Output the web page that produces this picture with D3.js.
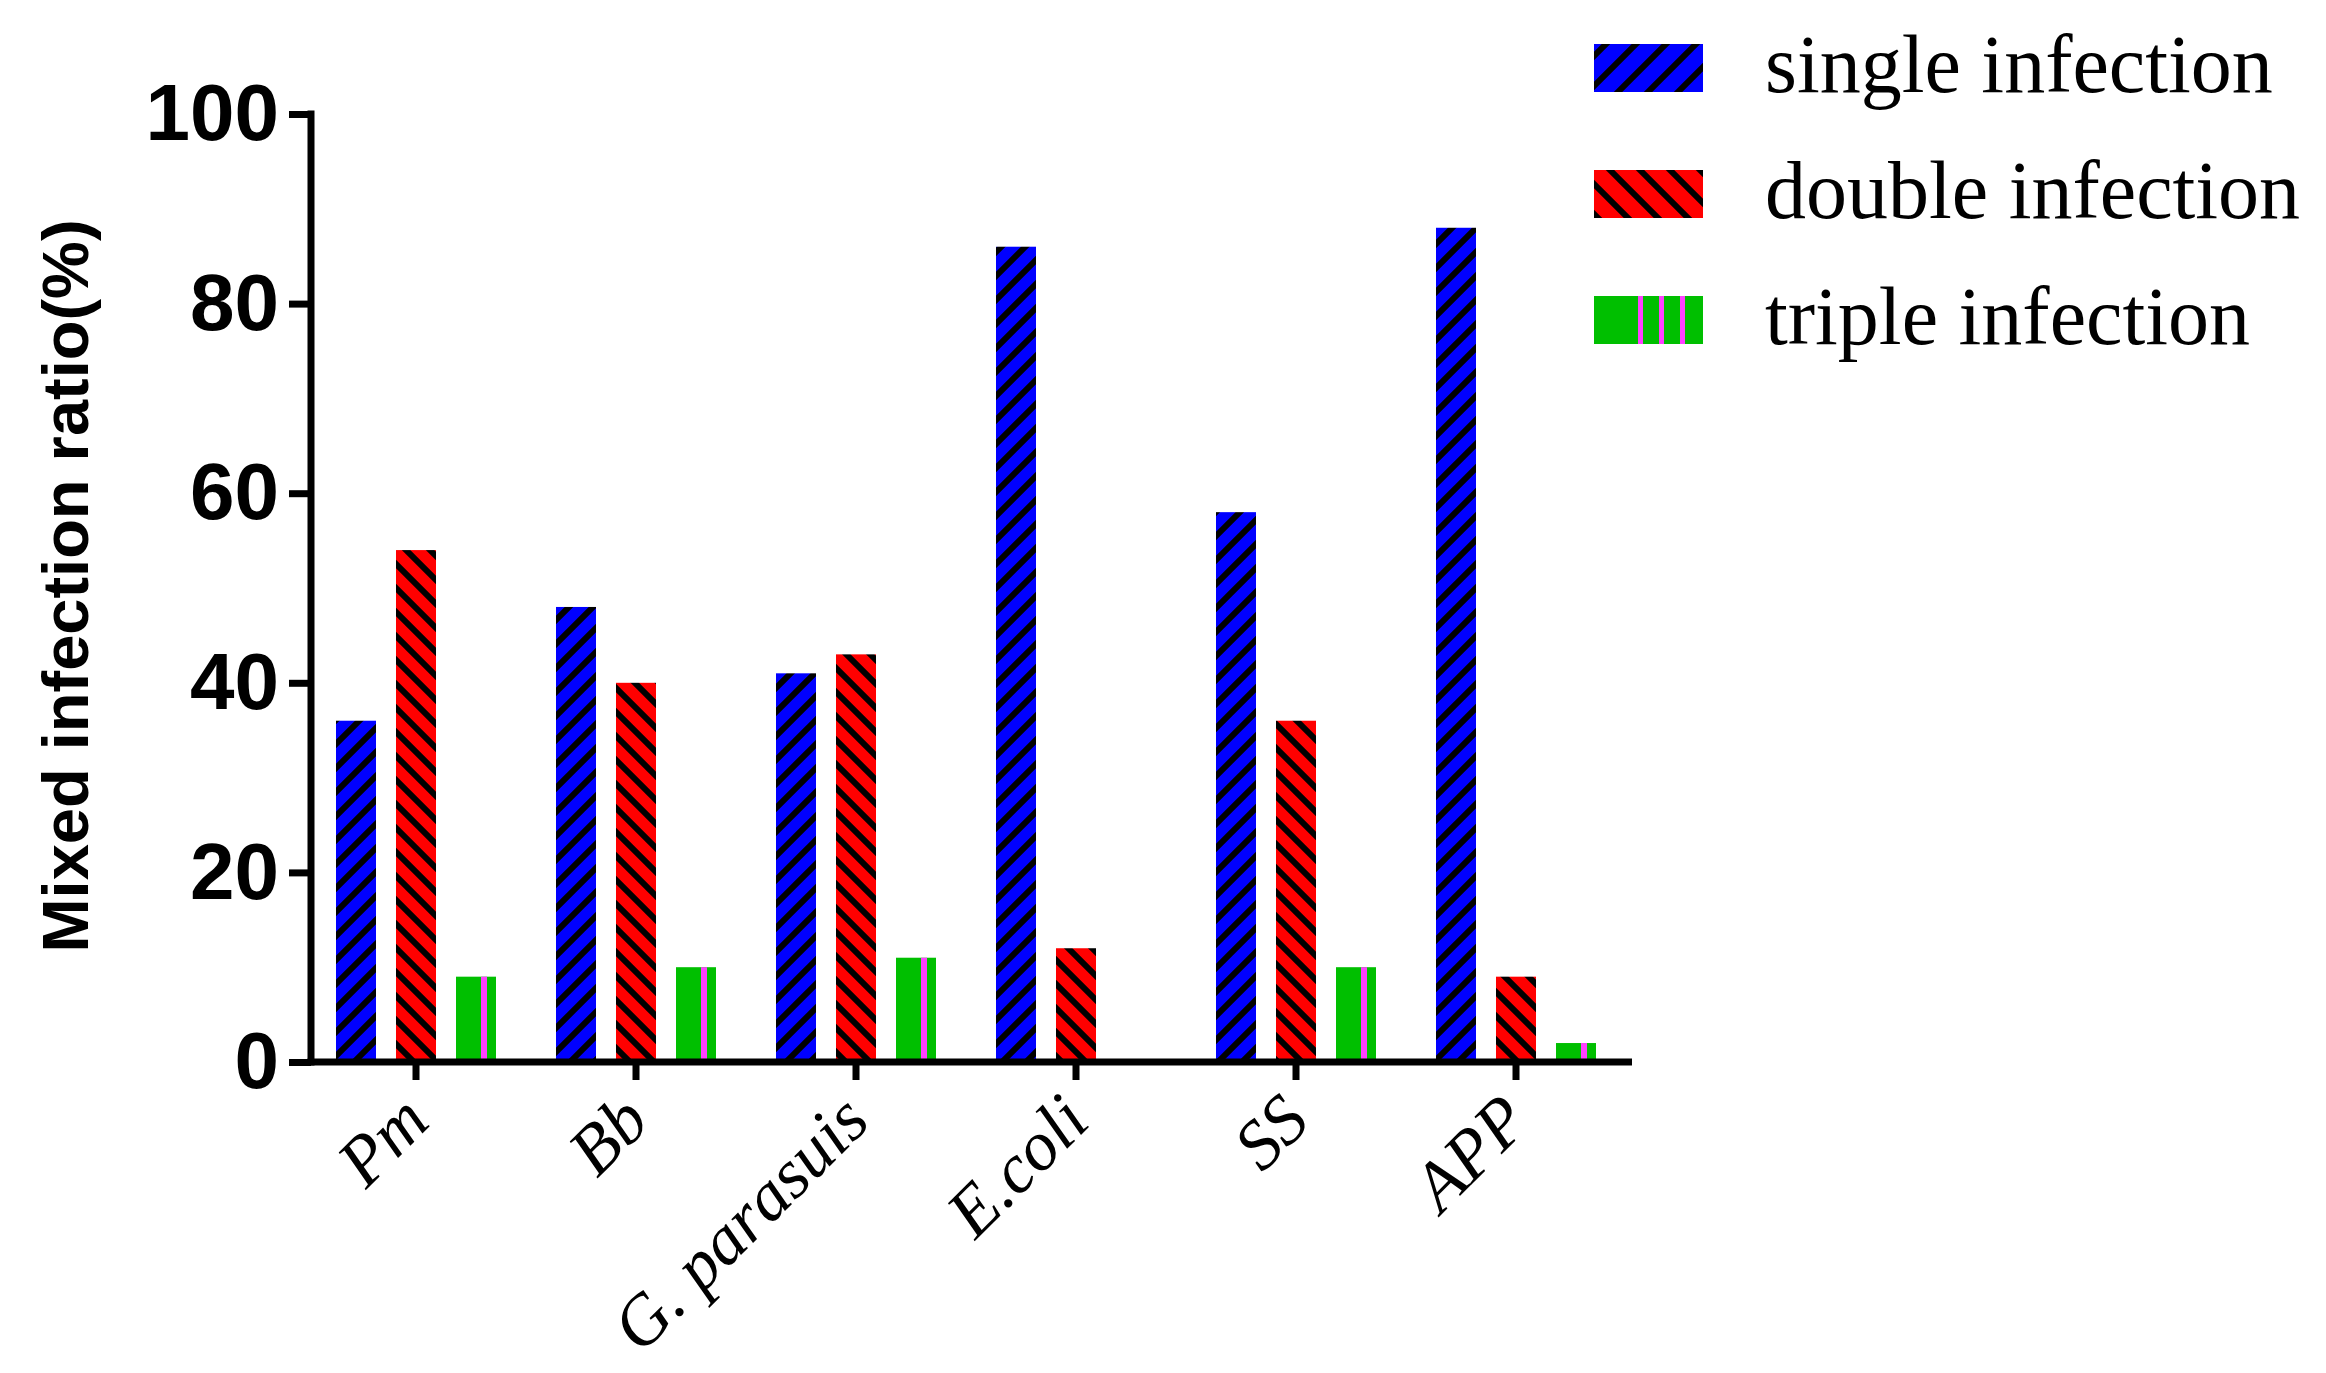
<!DOCTYPE html>
<html><head><meta charset="utf-8">
<script src="https://cdn.jsdelivr.net/npm/d3@7"></script>
<style>body{margin:0;background:#fff}</style></head>
<body><svg id="c" width="2326" height="1373"></svg>
<script>
const categories = ["Pm","Bb","G. parasuis","E.coli","SS","APP"];
const seriesNames = ["single infection","double infection","triple infection"];
const single = [36,48,41,86,58,88];
const double = [54,40,43,12,36,9];
const triple = [9,10,11,0,10,2];
const yTicks = [0,20,40,60,80,100];

const svg = d3.select("#c");
const defs = svg.append("defs");
function hatch(id, color, dir, sz){
  const p = defs.append("pattern").attr("id",id).attr("patternUnits","userSpaceOnUse")
    .attr("width",sz).attr("height",sz);
  p.append("rect").attr("width",sz).attr("height",sz).attr("fill",color);
  const s=sz, q=sz/4;
  const d = dir>0 ? `M${-q},${q} L${q},${-q} M0,${s} L${s},0 M${s-q},${s+q} L${s+q},${s-q}`
                  : `M${-q},${s-q} L${q},${s+q} M0,0 L${s},${s} M${s-q},${-q} L${s+q},${q}`;
  p.append("path").attr("d",d).attr("stroke","#000").attr("stroke-width",6);
}
hatch("pb","#0000ff",1,24);
hatch("pr","#ff0000",-1,24);
hatch("lb","#0000ff",1,30);
hatch("lr","#ff0000",-1,30);

const x0 = 311, x1 = 1632, yBase = 1062, yTop = 114;
const x = d3.scaleBand().domain(categories).range([306,1626]).padding(0);
const y = d3.scaleLinear().domain([0,100]).range([yBase,yTop]);
const offs = [-60,0,60], bw = 40;
const series = [single,double,triple];
const fills = ["url(#pb)","url(#pr)","#00bf00"];
const lfills = ["url(#lb)","url(#lr)","#00bf00"];

series.forEach((vals,si)=>{
  svg.append("g").selectAll("rect").data(vals).join("rect")
    .attr("x",(d,i)=>x(categories[i])+x.bandwidth()/2+offs[si]-bw/2)
    .attr("y",d=>y(d)).attr("width",bw).attr("height",d=>yBase-y(d))
    .attr("fill",fills[si]);
});
svg.append("g").selectAll("rect").data(triple).join("rect")
  .attr("x",(d,i)=>x(categories[i])+x.bandwidth()/2+60+5)
  .attr("y",d=>y(d)).attr("width",6).attr("height",d=>yBase-y(d))
  .attr("fill","#ff40ff");

// Y axis
const ya = svg.append("g").attr("transform",`translate(${x0},0)`)
  .call(d3.axisLeft(y).tickValues(yTicks).tickSize(22).tickPadding(10));
ya.select(".domain").remove();
ya.selectAll(".tick line").attr("stroke","#000").attr("stroke-width",7);
ya.selectAll(".tick text").attr("font-family","Liberation Sans, Arial").attr("font-weight","bold")
  .attr("font-size",80).attr("fill","#000");
svg.append("line").attr("x1",x0).attr("x2",x0).attr("y1",yTop-3.5).attr("y2",yBase+3.5)
  .attr("stroke","#000").attr("stroke-width",7);

// X axis
const xa = svg.append("g").attr("transform",`translate(0,${yBase})`)
  .call(d3.axisBottom(x).tickSize(18).tickFormat(""));
xa.select(".domain").remove();
xa.selectAll(".tick line").attr("stroke","#000").attr("stroke-width",7);
svg.append("line").attr("x1",x0-3.5).attr("x2",x1).attr("y1",yBase).attr("y2",yBase)
  .attr("stroke","#000").attr("stroke-width",7);
svg.append("g").selectAll("text").data(categories).join("text")
  .attr("transform",d=>`translate(${x(d)+x.bandwidth()/2+16},${yBase+62}) rotate(-45)`)
  .attr("text-anchor","end").attr("font-family","Liberation Serif, Times New Roman")
  .attr("font-style","italic").attr("font-size",70).text(d=>d);

// Y title
svg.append("text").attr("transform",`translate(88,586) rotate(-90)`)
  .attr("text-anchor","middle").attr("font-family","Liberation Sans, Arial")
  .attr("font-weight","bold").attr("font-size",65).text("Mixed infection ratio(%)");

// Legend
const lg = svg.append("g");
seriesNames.forEach((n,i)=>{
  const ly = 44 + i*126;
  lg.append("rect").attr("x",1594).attr("y",ly).attr("width",109).attr("height",48).attr("fill",lfills[i]);
  if(i===2){
    [47,68,89].forEach(o=>lg.append("rect").attr("x",1594+o-3).attr("y",ly).attr("width",5).attr("height",48).attr("fill","#ff40ff"));
  }
  lg.append("text").attr("x",1765).attr("y",ly+48).attr("font-family","Liberation Serif, Times New Roman")
    .attr("font-size",82).text(n);
});
</script></body></html>
